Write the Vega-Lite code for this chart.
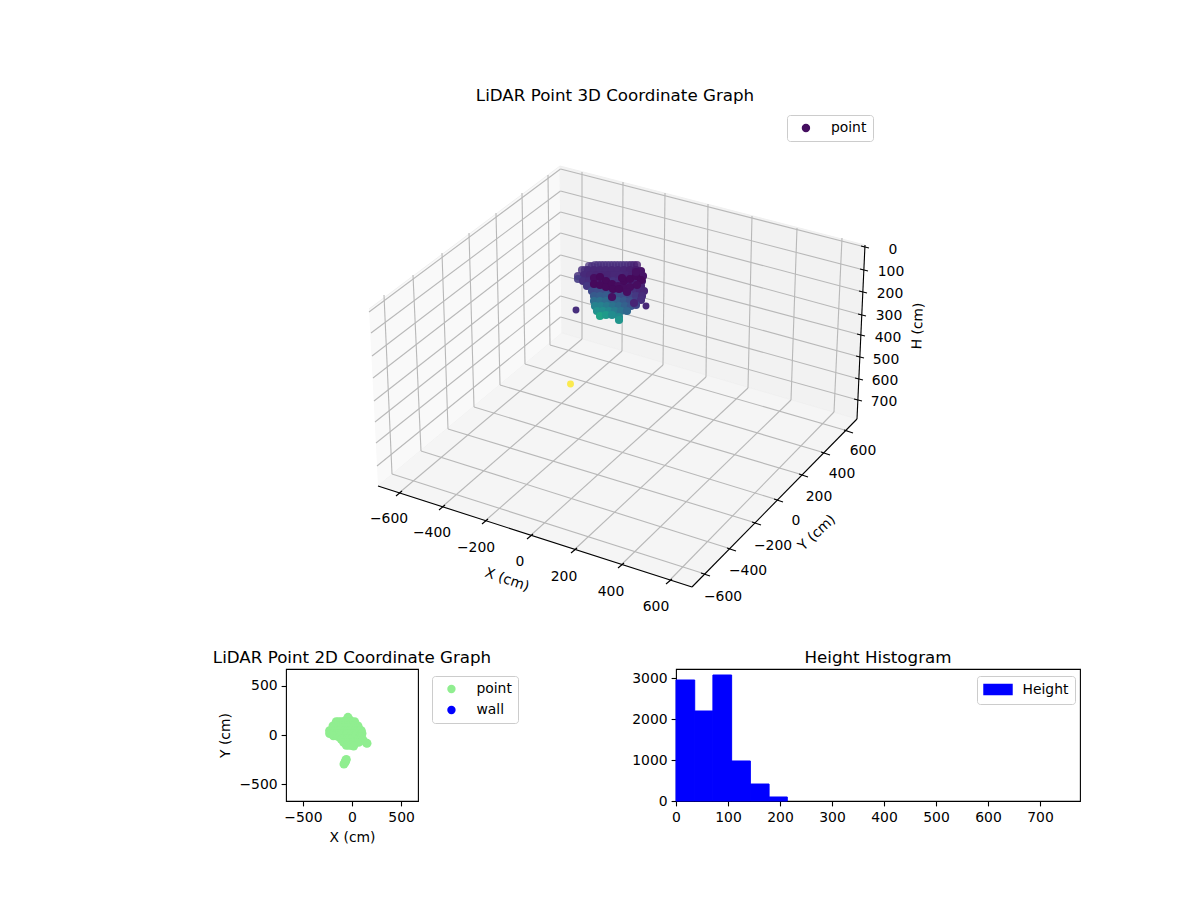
{
"$schema":"https://vega.github.io/schema/vega-lite/v6.json",
"padding":{"left":212,"top":88,"right":0,"bottom":0},
"background":"white",
"bounds":"flush",
"spacing":29,
"resolve":{"scale":{"color":"independent","fill":"independent","x":"independent","y":"independent"}},
"config":{"font":"DejaVu Sans","view":{"stroke":"#000","strokeWidth":1.1},"axis":{"grid":false,"domain":false,"labelFlush":false,"tickColor":"#000","tickWidth":1.1,"tickSize":4.9,"labelColor":"#000","titleColor":"#000","labelFontSize":13.9,"titleFontSize":13.9,"titleFontWeight":"normal","labelPadding":4,"labelFont":"DejaVu Sans","titleFont":"DejaVu Sans"},"axisX":{"labelPadding":5},"title":{"font":"DejaVu Sans","fontSize":16.7,"fontWeight":"normal","color":"#000"},"legend":{"labelFont":"DejaVu Sans","labelFontSize":13.9,"labelColor":"#000","fillColor":"rgba(255,255,255,0.8)","strokeColor":"#ccc","cornerRadius":3,"padding":6,"orient":"none","title":null}},
"datasets":{
"panes":[
{"pane":"left","i":0,"u":369,"v":309},{"pane":"left","i":1,"u":560,"v":166},{"pane":"left","i":2,"u":562,"v":333},{"pane":"left","i":3,"u":378,"v":486},
{"pane":"back","i":0,"u":560,"v":166},{"pane":"back","i":1,"u":865,"v":245},{"pane":"back","i":2,"u":857,"v":419},{"pane":"back","i":3,"u":562,"v":333},
{"pane":"floor","i":0,"u":378,"v":486},{"pane":"floor","i":1,"u":692,"v":587},{"pane":"floor","i":2,"u":857,"v":419},{"pane":"floor","i":3,"u":562,"v":333}],
"grid":[
{"u":399,"v":493,"u2":582,"v2":339},{"u":442,"v":507,"u2":622,"v2":351},{"u":485,"v":521,"u2":663,"v2":365},{"u":530,"v":536,"u2":706,"v2":377},{"u":574,"v":550,"u2":748,"v2":388},{"u":621,"v":565,"u2":791,"v2":400},{"u":669,"v":581,"u2":834,"v2":412},
{"u":582,"v":339,"u2":582,"v2":172},{"u":622,"v":351,"u2":623,"v2":182},{"u":663,"v":365,"u2":665,"v2":193},{"u":706,"v":377,"u2":708,"v2":204},{"u":748,"v":388,"u2":752,"v2":216},{"u":791,"v":400,"u2":797,"v2":228},{"u":834,"v":412,"u2":842,"v2":238},
{"u":392,"v":474,"u2":705,"v2":574},{"u":421,"v":451,"u2":731,"v2":549},{"u":448,"v":429,"u2":756,"v2":523},{"u":474,"v":407,"u2":778,"v2":500},{"u":500,"v":385,"u2":803,"v2":475},{"u":525,"v":364,"u2":825,"v2":453},{"u":550,"v":345,"u2":848,"v2":431},
{"u":392,"v":474,"u2":384,"v2":295},{"u":421,"v":451,"u2":413,"v2":275},{"u":448,"v":429,"u2":442,"v2":253},{"u":474,"v":407,"u2":469,"v2":233},{"u":500,"v":385,"u2":496,"v2":213},{"u":525,"v":364,"u2":522,"v2":193},{"u":550,"v":345,"u2":548,"v2":175},
{"u":560.5,"v":169,"u2":865,"v2":247},{"u":560.5,"v":191,"u2":864,"v2":270},{"u":560.5,"v":212,"u2":863,"v2":292},{"u":560.5,"v":233,"u2":862,"v2":315},{"u":560.5,"v":255,"u2":861,"v2":335},{"u":560.5,"v":275,"u2":860,"v2":357},{"u":560.5,"v":296,"u2":859,"v2":379},{"u":560.5,"v":317,"u2":858,"v2":400},
{"u":560.5,"v":169,"u2":369,"v2":312},{"u":560.5,"v":191,"u2":371,"v2":333},{"u":560.5,"v":212,"u2":372,"v2":356},{"u":560.5,"v":233,"u2":373,"v2":378},{"u":560.5,"v":255,"u2":374,"v2":401},{"u":560.5,"v":275,"u2":375,"v2":422},{"u":560.5,"v":296,"u2":376,"v2":443},{"u":560.5,"v":317,"u2":377,"v2":466}],
"axes":[
{"u":378,"v":486,"u2":692,"v2":587},{"u":692,"v":587,"u2":857,"v2":419},{"u":865,"v":245,"u2":857,"v2":419},
{"u":396,"v":496,"u2":402,"v2":491},{"u":439,"v":510,"u2":445,"v2":505},{"u":482,"v":524,"u2":488,"v2":519},{"u":527,"v":539,"u2":533,"v2":534},{"u":571,"v":553,"u2":577,"v2":548},{"u":618,"v":568,"u2":624,"v2":563},{"u":666,"v":584,"u2":672,"v2":579},
{"u":701,"v":573,"u2":710,"v2":576},{"u":727,"v":548,"u2":736,"v2":551},{"u":752,"v":522,"u2":761,"v2":525},{"u":774,"v":499,"u2":783,"v2":502},{"u":799,"v":474,"u2":808,"v2":477},{"u":821,"v":452,"u2":830,"v2":455},{"u":844,"v":430,"u2":853,"v2":433},
{"u":861,"v":246,"u2":869,"v2":248},{"u":860,"v":269,"u2":868,"v2":271},{"u":859,"v":291,"u2":867,"v2":293},{"u":858,"v":314,"u2":866,"v2":316},{"u":857,"v":334,"u2":865,"v2":336},{"u":856,"v":356,"u2":864,"v2":358},{"u":855,"v":378,"u2":863,"v2":380},{"u":854,"v":399,"u2":862,"v2":401}],
"labels":[
{"t":"−600","u":389,"v":519,"r":0},{"t":"−400","u":432,"v":533,"r":0},{"t":"−200","u":476,"v":548,"r":0},{"t":"0","u":520,"v":562,"r":0},{"t":"200","u":564,"v":577,"r":0},{"t":"400","u":611,"v":592,"r":0},{"t":"600","u":656,"v":607,"r":0},
{"t":"−600","u":723,"v":597,"r":0},{"t":"−400","u":748,"v":571,"r":0},{"t":"−200","u":773,"v":546,"r":0},{"t":"0","u":796,"v":521,"r":0},{"t":"200","u":819,"v":497,"r":0},{"t":"400","u":842,"v":474,"r":0},{"t":"600","u":863,"v":451,"r":0},
{"t":"0","u":893,"v":250,"r":0},{"t":"100","u":891,"v":272,"r":0},{"t":"200","u":890,"v":294,"r":0},{"t":"300","u":889,"v":316,"r":0},{"t":"400","u":888,"v":338,"r":0},{"t":"500","u":886,"v":360,"r":0},{"t":"600","u":885,"v":381,"r":0},{"t":"700","u":884,"v":402,"r":0},
{"t":"X (cm)","u":507,"v":580,"r":19},{"t":"Y (cm)","u":817,"v":533,"r":-43},{"t":"H (cm)","u":918,"v":326,"r":-88}],
"cloud":[
{"u":589,"v":266,"c":0.13,"depth":0.7},{"u":592,"v":266,"c":0.13,"depth":0.7},{"u":595,"v":265,"c":0.13,"depth":0.7},{"u":598,"v":265,"c":0.13,"depth":0.7},{"u":601,"v":265,"c":0.13,"depth":0.7},{"u":604,"v":265,"c":0.13,"depth":0.7},{"u":607,"v":265,"c":0.13,"depth":0.7},{"u":610,"v":265,"c":0.13,"depth":0.7},{"u":613,"v":265,"c":0.13,"depth":0.7},{"u":616,"v":265,"c":0.13,"depth":0.7},{"u":619,"v":265,"c":0.13,"depth":0.7},{"u":622,"v":265,"c":0.13,"depth":0.7},{"u":625,"v":265,"c":0.13,"depth":0.7},{"u":628,"v":265,"c":0.12,"depth":0.7},{"u":631,"v":265,"c":0.11,"depth":0.8},{"u":634,"v":265,"c":0.1,"depth":0.8},{"u":637,"v":265,"c":0.08,"depth":0.8},
{"u":582,"v":270,"c":0.13,"depth":0.8},{"u":585,"v":270,"c":0.13,"depth":0.8},{"u":588,"v":270,"c":0.12,"depth":1},{"u":594,"v":270,"c":0.11,"depth":1},{"u":600,"v":270,"c":0.11,"depth":1},{"u":606,"v":270,"c":0.11,"depth":1},{"u":612,"v":270,"c":0.11,"depth":1},{"u":618,"v":270,"c":0.11,"depth":1},{"u":624,"v":270,"c":0.1,"depth":1},{"u":630,"v":270,"c":0.09,"depth":1},{"u":636,"v":270,"c":0.07,"depth":1},{"u":641,"v":271,"c":0.05,"depth":1},
{"u":578,"v":276,"c":0.14,"depth":0.85},{"u":584,"v":275,"c":0.12,"depth":1},{"u":590,"v":275,"c":0.11,"depth":1},{"u":596,"v":275,"c":0.1,"depth":1},{"u":602,"v":275,"c":0.1,"depth":1},{"u":608,"v":275,"c":0.1,"depth":1},{"u":614,"v":275,"c":0.11,"depth":1},{"u":620,"v":275,"c":0.11,"depth":1},{"u":626,"v":275,"c":0.1,"depth":1},{"u":632,"v":275,"c":0.09,"depth":1},{"u":638,"v":275,"c":0.07,"depth":1},{"u":643,"v":276,"c":0.05,"depth":1},
{"u":578,"v":279,"c":0.17,"depth":0.9},{"u":583,"v":281,"c":0.14,"depth":1},{"u":589,"v":281,"c":0.13,"depth":1},{"u":595,"v":281,"c":0.12,"depth":1},{"u":601,"v":281,"c":0.12,"depth":1},{"u":607,"v":281,"c":0.13,"depth":1},{"u":613,"v":281,"c":0.14,"depth":1},{"u":619,"v":281,"c":0.13,"depth":1},{"u":625,"v":281,"c":0.12,"depth":1},{"u":631,"v":281,"c":0.1,"depth":1},{"u":637,"v":281,"c":0.08,"depth":1},{"u":642,"v":281,"c":0.06,"depth":1},
{"u":587,"v":286,"c":0.16,"depth":1},{"u":593,"v":286,"c":0.16,"depth":1},{"u":599,"v":286,"c":0.17,"depth":1},{"u":605,"v":286,"c":0.18,"depth":1},{"u":611,"v":286,"c":0.18,"depth":1},{"u":617,"v":286,"c":0.16,"depth":1},{"u":623,"v":286,"c":0.15,"depth":1},{"u":629,"v":286,"c":0.13,"depth":1},{"u":635,"v":286,"c":0.1,"depth":1},{"u":641,"v":286,"c":0.09,"depth":1},
{"u":592,"v":291,"c":0.22,"depth":1},{"u":598,"v":291,"c":0.23,"depth":1},{"u":604,"v":291,"c":0.24,"depth":1},{"u":610,"v":291,"c":0.24,"depth":1},{"u":616,"v":291,"c":0.22,"depth":1},{"u":622,"v":291,"c":0.2,"depth":1},{"u":628,"v":291,"c":0.17,"depth":1},{"u":634,"v":291,"c":0.14,"depth":1},{"u":640,"v":291,"c":0.12,"depth":1},{"u":644,"v":291,"c":0.1,"depth":1},
{"u":594,"v":296,"c":0.28,"depth":1},{"u":600,"v":296,"c":0.29,"depth":1},{"u":606,"v":296,"c":0.29,"depth":1},{"u":612,"v":296,"c":0.27,"depth":1},{"u":618,"v":296,"c":0.25,"depth":1},{"u":624,"v":296,"c":0.23,"depth":1},{"u":630,"v":296,"c":0.2,"depth":1},{"u":636,"v":296,"c":0.16,"depth":1},{"u":642,"v":296,"c":0.12,"depth":1},
{"u":594,"v":301,"c":0.36,"depth":1},{"u":600,"v":301,"c":0.37,"depth":1},{"u":606,"v":301,"c":0.35,"depth":1},{"u":612,"v":301,"c":0.33,"depth":1},{"u":618,"v":301,"c":0.31,"depth":1},{"u":624,"v":301,"c":0.28,"depth":1},{"u":630,"v":301,"c":0.24,"depth":1},{"u":636,"v":301,"c":0.18,"depth":1},{"u":641,"v":300,"c":0.13,"depth":1},
{"u":595,"v":306,"c":0.44,"depth":1},{"u":601,"v":306,"c":0.44,"depth":1},{"u":607,"v":306,"c":0.41,"depth":1},{"u":613,"v":306,"c":0.38,"depth":1},{"u":619,"v":306,"c":0.35,"depth":1},{"u":625,"v":306,"c":0.31,"depth":1},{"u":631,"v":306,"c":0.27,"depth":1},{"u":636,"v":305,"c":0.2,"depth":1},
{"u":597,"v":311,"c":0.5,"depth":1},{"u":603,"v":311,"c":0.49,"depth":1},{"u":609,"v":311,"c":0.46,"depth":1},{"u":615,"v":311,"c":0.42,"depth":1},{"u":621,"v":311,"c":0.38,"depth":1},{"u":627,"v":311,"c":0.33,"depth":1},
{"u":600,"v":316,"c":0.58,"depth":1},{"u":606,"v":315,"c":0.54,"depth":1},{"u":612,"v":315,"c":0.48,"depth":1},{"u":619,"v":317,"c":0.47,"depth":1},{"u":619,"v":320,"c":0.52,"depth":1},
{"u":594,"v":278,"c":0.03,"depth":1},{"u":600,"v":277,"c":0.02,"depth":1},{"u":606,"v":281,"c":0.02,"depth":1},{"u":594,"v":284,"c":0.02,"depth":1},{"u":600,"v":285,"c":0.02,"depth":1},{"u":606,"v":287,"c":0.02,"depth":1},{"u":612,"v":284,"c":0.02,"depth":1},{"u":618,"v":286,"c":0.03,"depth":1},{"u":624,"v":288,"c":0.03,"depth":1},{"u":630,"v":287,"c":0.03,"depth":1},{"u":624,"v":281,"c":0.02,"depth":1},{"u":630,"v":279,"c":0.02,"depth":1},{"u":636,"v":276,"c":0.02,"depth":1},{"u":641,"v":280,"c":0.02,"depth":1},
{"u":613,"v":289,"c":0.02,"depth":1},{"u":619,"v":289,"c":0.02,"depth":1},{"u":622,"v":278,"c":0.02,"depth":1},{"u":637,"v":285,"c":0.03,"depth":1},{"u":627,"v":292,"c":0.03,"depth":1},{"u":612,"v":297,"c":0.04,"depth":1},{"u":636,"v":272,"c":0.04,"depth":1},{"u":634,"v":303,"c":0.1,"depth":1}],
"outliers":[{"u":576,"v":310,"c":0.13,"depth":1,"s":"point"},{"u":646,"v":306,"c":0.11,"depth":1,"s":"point"},{"u":570.5,"v":384,"c":1,"depth":0.8,"s":"point"}],
"flat":[
{"x":-41,"y":180},{"x":-41,"y":160},{"x":-60,"y":150},{"x":-20,"y":150},{"x":-160,"y":136},{"x":-135,"y":136},{"x":-109,"y":136},{"x":-84,"y":136},{"x":-58,"y":136},{"x":-33,"y":136},{"x":-7,"y":136},{"x":27,"y":136},{"x":10,"y":125},
{"x":-194,"y":92},{"x":-168,"y":92},{"x":-143,"y":92},{"x":-118,"y":92},{"x":-92,"y":92},{"x":-66,"y":92},{"x":-41,"y":92},{"x":-15,"y":92},{"x":10,"y":92},{"x":35,"y":92},{"x":61,"y":92},
{"x":-190,"y":70},{"x":-150,"y":70},{"x":-110,"y":70},{"x":-70,"y":70},{"x":-30,"y":70},{"x":10,"y":70},{"x":50,"y":70},{"x":70,"y":65},
{"x":-228,"y":44},{"x":-202,"y":44},{"x":-177,"y":44},{"x":-152,"y":44},{"x":-126,"y":44},{"x":-100,"y":44},{"x":-75,"y":44},{"x":-50,"y":44},{"x":-24,"y":44},{"x":2,"y":44},{"x":27,"y":44},{"x":52,"y":44},{"x":78,"y":44},{"x":95,"y":44},
{"x":-228,"y":15},{"x":-202,"y":15},{"x":-177,"y":15},{"x":-152,"y":15},{"x":-126,"y":15},{"x":-100,"y":15},{"x":-75,"y":15},{"x":-50,"y":15},{"x":-24,"y":15},{"x":2,"y":15},{"x":27,"y":15},{"x":52,"y":15},{"x":78,"y":15},{"x":102,"y":15},
{"x":-190,"y":-8},{"x":-150,"y":-12},{"x":-126,"y":-20},{"x":-100,"y":-20},{"x":-75,"y":-20},{"x":-50,"y":-20},{"x":-24,"y":-20},{"x":2,"y":-20},{"x":27,"y":-20},{"x":52,"y":-20},{"x":78,"y":-20},{"x":95,"y":-20},
{"x":-109,"y":-44},{"x":-84,"y":-44},{"x":-58,"y":-44},{"x":-33,"y":-44},{"x":-7,"y":-44},{"x":27,"y":-44},{"x":61,"y":-44},{"x":85,"y":-44},
{"x":-85,"y":-75},{"x":-60,"y":-75},{"x":-34,"y":-75},{"x":-8,"y":-75},{"x":17,"y":-75},{"x":42,"y":-75},{"x":68,"y":-75},{"x":112,"y":-51},{"x":153,"y":-85},{"x":145,"y":-80},
{"x":-58,"y":-105},{"x":-30,"y":-105},{"x":-4,"y":-105},{"x":17,"y":-112},
{"x":-82,"y":-296},{"x":-75,"y":-284},{"x":-68,"y":-272},{"x":-63,"y":-260},{"x":-58,"y":-248}],
"hist":[
{"b0":0,"b1":36,"n":2958,"k":"Height"},{"b0":36,"b1":71,"n":2200,"k":"Height"},{"b0":71,"b1":107,"n":3080,"k":"Height"},{"b0":107,"b1":143,"n":978,"k":"Height"},{"b0":143,"b1":179,"n":415,"k":"Height"},{"b0":179,"b1":214,"n":98,"k":"Height"}]
},
"vconcat":[
{"width":794,"height":536,
"title":{"text":"LiDAR Point 3D Coordinate Graph","dx":-68,"offset":-1},
"view":{"stroke":null},
"layer":[
{"data":{"name":"panes"},"mark":{"type":"line","stroke":"#f0f0f0","strokeWidth":1},"encoding":{"x":{"field":"u","type":"quantitative","scale":{"domain":[286,1080],"nice":false,"zero":false},"axis":null},"y":{"field":"v","type":"quantitative","scale":{"domain":[640,104],"nice":false,"zero":false},"axis":null},"detail":{"field":"pane"},"order":{"field":"i"},"fill":{"field":"pane","type":"nominal","scale":{"domain":["left","back","floor"],"range":["#f9f9f9","#f2f2f2","#f5f5f5"]},"legend":null}}},
{"data":{"name":"grid"},"mark":{"type":"rule","color":"#b8b8b8","strokeWidth":1.1},"encoding":{"x":{"field":"u","type":"quantitative"},"y":{"field":"v","type":"quantitative"},"x2":{"field":"u2"},"y2":{"field":"v2"}}},
{"data":{"name":"axes"},"mark":{"type":"rule","color":"#000","strokeWidth":1.1},"encoding":{"x":{"field":"u","type":"quantitative"},"y":{"field":"v","type":"quantitative"},"x2":{"field":"u2"},"y2":{"field":"v2"}}},
{"data":{"name":"labels"},"mark":{"type":"text","fontSize":13.9,"color":"#000","align":"center","baseline":"middle"},"encoding":{"x":{"field":"u","type":"quantitative"},"y":{"field":"v","type":"quantitative"},"text":{"field":"t"},"angle":{"field":"r","type":"quantitative","scale":null}}},
{"data":{"name":"cloud"},"mark":{"type":"point","filled":true,"size":66,"strokeWidth":0},"encoding":{"x":{"field":"u","type":"quantitative"},"y":{"field":"v","type":"quantitative"},"color":{"field":"c","type":"quantitative","scale":{"scheme":"viridis","domain":[0,1]},"legend":null},"opacity":{"field":"depth","type":"quantitative","scale":null}}},
{"data":{"name":"outliers"},"mark":{"type":"point","filled":true,"size":48,"strokeWidth":0},"encoding":{"x":{"field":"u","type":"quantitative"},"y":{"field":"v","type":"quantitative"},"color":{"field":"c","type":"quantitative","scale":{"scheme":"viridis","domain":[0,1]},"legend":null},"opacity":{"field":"depth","type":"quantitative","scale":null},"shape":{"field":"s","type":"nominal","scale":{"domain":["point"],"range":["circle"]},"legend":{"legendX":501,"legendY":11,"symbolFillColor":"#450f60","symbolStrokeColor":"#450f60","symbolOpacity":1,"symbolSize":48,"symbolOffset":6,"labelOffset":18}}}}
]},
{"hconcat":[
{"width":132,"height":132,
"title":{"text":"LiDAR Point 2D Coordinate Graph","offset":2},
"data":{"name":"flat"},
"mark":{"type":"point","filled":true,"size":80,"opacity":1,"strokeWidth":0},
"encoding":{"x":{"field":"x","type":"quantitative","title":"X (cm)","scale":{"domain":[-672,672],"nice":false},"axis":{"values":[-500,0,500],"titlePadding":6}},"y":{"field":"y","type":"quantitative","title":"Y (cm)","scale":{"domain":[-672,672],"nice":false},"axis":{"values":[-500,0,500],"titlePadding":6}},
"color":{"datum":"point","type":"nominal","scale":{"domain":["point","wall"],"range":["#90ee90","#0000ff"]},"legend":{"legendX":146,"legendY":7,"symbolSize":70,"symbolOffset":6.5,"labelOffset":18,"rowPadding":6}}}},
{"width":404,"height":132,
"title":{"text":"Height Histogram","offset":2},
"data":{"name":"hist"},
"mark":{"type":"rect","stroke":"#0000ff","strokeWidth":1},
"encoding":{"x":{"field":"b0","type":"quantitative","title":null,"scale":{"domain":[0,777],"nice":false},"axis":{"values":[0,100,200,300,400,500,600,700]}},"x2":{"field":"b1"},"y":{"field":"n","type":"quantitative","title":null,"scale":{"domain":[0,3227],"nice":false},"axis":{"values":[0,1000,2000,3000],"format":"d"}},"y2":{"datum":0},
"color":{"field":"k","type":"nominal","scale":{"domain":["Height"],"range":["#0000ff"]},"legend":{"legendX":301,"legendY":7,"symbolType":"M-2.15,-0.77H2.15V0.77H-2.15Z","symbolSize":169,"symbolOffset":7.5,"labelOffset":17}}}}
],"spacing":258,"bounds":"flush","resolve":{"scale":{"color":"independent"}}}
]
}
